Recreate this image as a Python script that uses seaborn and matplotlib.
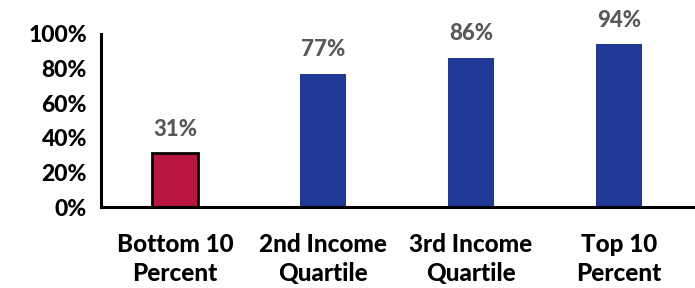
import matplotlib
matplotlib.use("Agg")
import matplotlib.pyplot as plt
import seaborn as sns
import pandas as pd
from matplotlib.ticker import FixedLocator

categories = ["Bottom 10\nPercent", "2nd Income\nQuartile", "3rd Income\nQuartile", "Top 10\nPercent"]
values = [31, 77, 86, 94]
colors = ["#B9153E", "#203896", "#203896", "#203896"]
yticks = [0, 20, 40, 60, 80, 100]

sns.set_style("white")
plt.rcParams["font.family"] = ["Lato", "DejaVu Sans"]
W = 900

df = pd.DataFrame({"cat": categories, "val": values})

fig = plt.figure(figsize=(6.95, 2.88), dpi=100)
ax = fig.add_axes([101/695, 1-207/288, 592/695, 173/288])

sns.barplot(data=df, x="cat", y="val", hue="cat", palette=colors, dodge=False,
            legend=False, width=0.31, ax=ax, saturation=1)

for i, p in enumerate(ax.patches):
    if i == 0:
        p.set_edgecolor("black")
        p.set_linewidth(2.0)
    else:
        p.set_edgecolor("none")
    ax.text(p.get_x() + p.get_width()/2, p.get_height() + 8, f"{values[i]}%",
            ha="center", va="bottom", fontsize=16, fontweight=W, color="#595959")

ax.set_xlim(-0.5, 3.5)
ax.set_ylim(0, 100)
ax.set_yticks(yticks)
ax.set_yticklabels([f"{t}%" for t in yticks], fontsize=16.5, fontweight=W, color="black")
ax.set_xticks(range(len(categories)))
ax.set_xticklabels(categories, fontsize=17.5, fontweight=W, color="black", linespacing=1.3)
ax.xaxis.set_minor_locator(FixedLocator([0.5, 1.5, 2.5, 3.5]))
ax.tick_params(axis="x", which="major", length=0, pad=19)
ax.tick_params(axis="x", which="minor", direction="in", length=7, width=2, color="black")
ax.tick_params(axis="y", which="major", direction="in", length=7, width=2, color="black", pad=10)
ax.set_xlabel("")
ax.set_ylabel("")
for s in ["top", "right"]:
    ax.spines[s].set_visible(False)
for s in ["left", "bottom"]:
    ax.spines[s].set_color("black")
    ax.spines[s].set_linewidth(2.2)

fig.savefig("out.png", dpi=100)
